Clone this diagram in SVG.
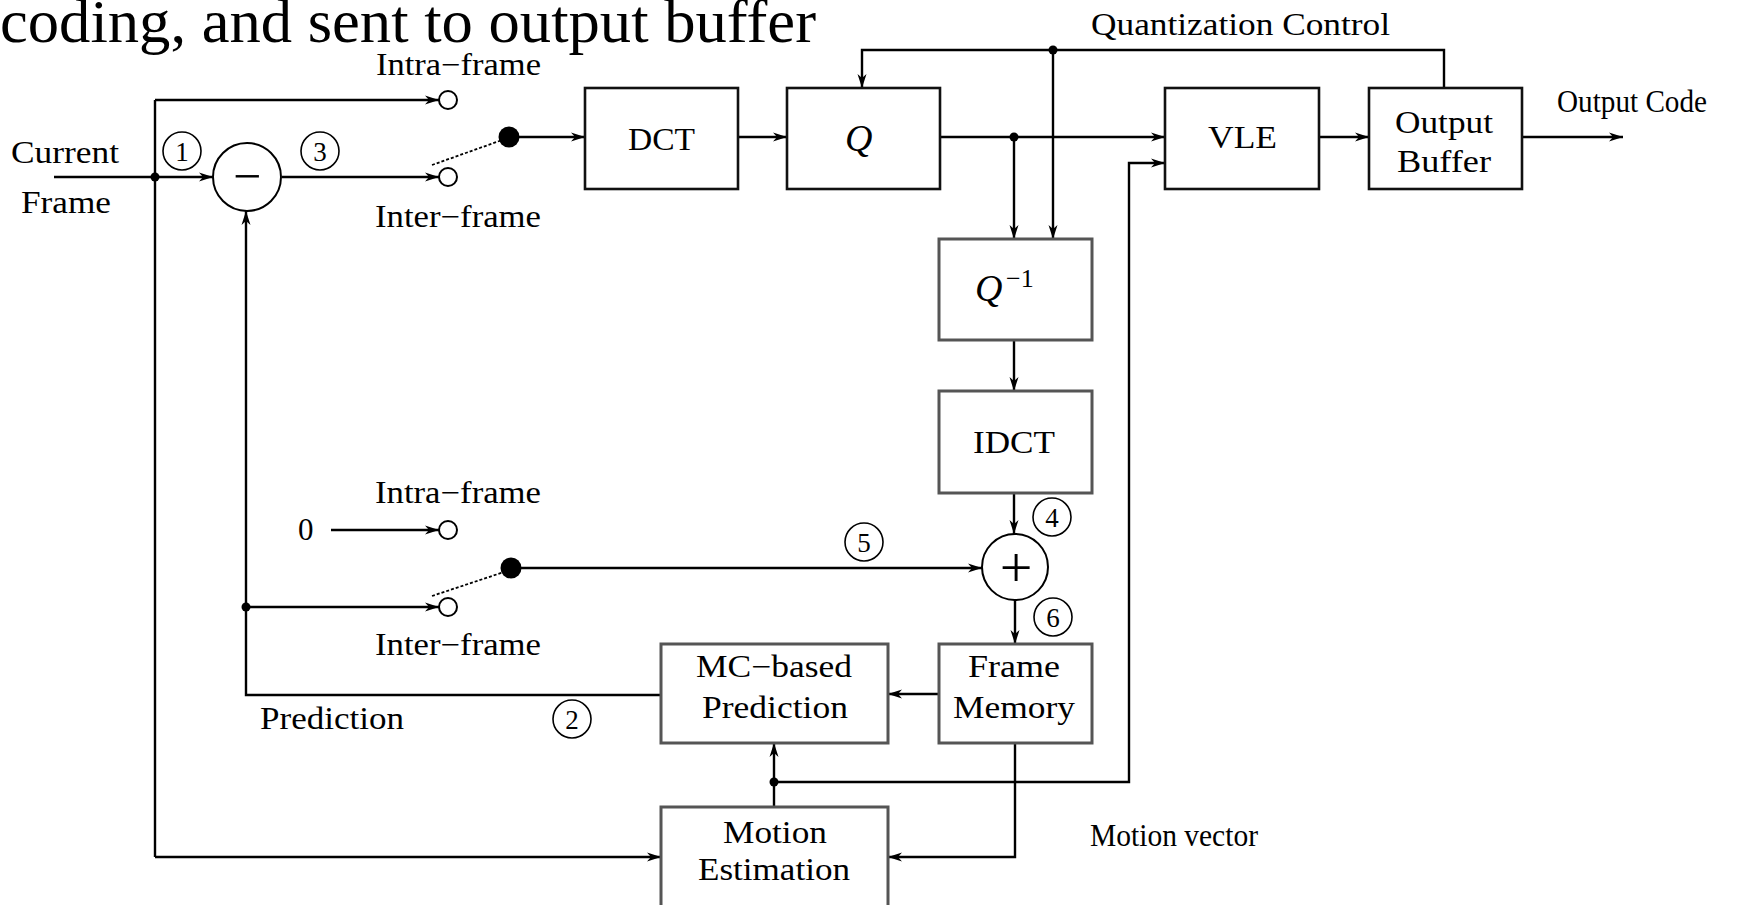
<svg xmlns="http://www.w3.org/2000/svg" width="1752" height="905" viewBox="0 0 1752 905">
<style>
  text { font-family: "Liberation Serif", "Times New Roman", serif; fill: #000; }
  .lbl { font-size: 31px; }
  .title { font-size: 61px; }
  .num { font-size: 27px; text-anchor: middle; }
  .box { fill: #fff; stroke: #111; stroke-width: 2.6; }
  .gbox { fill: #fff; stroke: #555; stroke-width: 3; }
  .ln { fill: none; stroke: #000; stroke-width: 2.4; }
  .arr { marker-end: url(#ah); }
  .sw { fill: #fff; stroke: #000; stroke-width: 2; }
  .cn { fill: #fff; stroke: #000; stroke-width: 1.6; }
  .dot { fill: #000; }
  .dash { fill: none; stroke: #000; stroke-width: 1.8; stroke-dasharray: 3 2; }
</style>
<defs>
  <marker id="ah" markerUnits="userSpaceOnUse" markerWidth="16" markerHeight="12" refX="14" refY="6" orient="auto">
    <path d="M0,1.5 L14,6 L0,10.5 L4,6 Z" fill="#000"/>
  </marker>
</defs>
<rect width="1752" height="905" fill="#fff"/>

<text class="title" x="0" y="42" textLength="816" lengthAdjust="spacingAndGlyphs">coding, and sent to output buffer</text>

<g id="connectors">
  <line class="ln arr" x1="54" y1="177" x2="213" y2="177"/>
  <line class="ln" x1="155" y1="100" x2="155" y2="857"/>
  <line class="ln arr" x1="155" y1="100" x2="439" y2="100"/>
  <line class="ln arr" x1="282" y1="177" x2="439" y2="177"/>
  <line class="dash" x1="432" y1="165" x2="505" y2="139"/>
  <line class="ln arr" x1="509" y1="137" x2="585" y2="137"/>
  <line class="ln arr" x1="738" y1="137" x2="787" y2="137"/>
  <line class="ln arr" x1="940" y1="137" x2="1165" y2="137"/>
  <line class="ln arr" x1="1014" y1="137" x2="1014" y2="239"/>
  <polyline class="ln arr" points="1444,88 1444,50 862,50 862,88"/>
  <line class="ln arr" x1="1053" y1="50" x2="1053" y2="239"/>
  <line class="ln arr" x1="1319" y1="137" x2="1369" y2="137"/>
  <line class="ln arr" x1="1522" y1="137" x2="1623" y2="137"/>
  <line class="ln arr" x1="1014" y1="340" x2="1014" y2="391"/>
  <line class="ln arr" x1="1014" y1="493" x2="1014" y2="534"/>
  <line class="ln arr" x1="1015" y1="600" x2="1015" y2="644"/>
  <line class="ln arr" x1="331" y1="530" x2="439" y2="530"/>
  <line class="ln arr" x1="511" y1="568" x2="982" y2="568"/>
  <line class="dash" x1="432" y1="596" x2="507" y2="571"/>
  <line class="ln arr" x1="246" y1="607" x2="439" y2="607"/>
  <polyline class="ln arr" points="662,695 246,695 246,211"/>
  <line class="ln arr" x1="939" y1="694" x2="888" y2="694"/>
  <line class="ln arr" x1="774" y1="807" x2="774" y2="743"/>
  <polyline class="ln arr" points="774,782 1129,782 1129,163 1165,163"/>
  <polyline class="ln arr" points="1015,743 1015,857 888,857"/>
  <line class="ln arr" x1="155" y1="857" x2="661" y2="857"/>
  <circle class="dot" cx="155" cy="177" r="4.5"/>
  <circle class="dot" cx="1014" cy="137" r="4.5"/>
  <circle class="dot" cx="1053" cy="50" r="4.5"/>
  <circle class="dot" cx="246" cy="607" r="4.5"/>
  <circle class="dot" cx="774" cy="782" r="4.5"/>
</g>

<g id="switch1">
  <circle class="sw" cx="448" cy="100" r="9"/>
  <circle class="sw" cx="448" cy="177" r="9"/>
  <circle class="dot" cx="509" cy="137" r="10.5"/>
  <text class="lbl" x="376" y="75" textLength="165" lengthAdjust="spacingAndGlyphs">Intra−frame</text>
  <text class="lbl" x="375" y="227" textLength="166" lengthAdjust="spacingAndGlyphs">Inter−frame</text>
</g>

<g id="switch2">
  <circle class="sw" cx="448" cy="530" r="9"/>
  <circle class="sw" cx="448" cy="607" r="9"/>
  <circle class="dot" cx="511" cy="568" r="10.5"/>
  <text class="lbl" x="375" y="503" textLength="166" lengthAdjust="spacingAndGlyphs">Intra−frame</text>
  <text class="lbl" x="375" y="655" textLength="166" lengthAdjust="spacingAndGlyphs">Inter−frame</text>
  <text class="lbl" x="298" y="540">0</text>
</g>

<g id="input">
  <text class="lbl" x="11" y="163" textLength="108" lengthAdjust="spacingAndGlyphs">Current</text>
  <text class="lbl" x="21" y="213" textLength="90" lengthAdjust="spacingAndGlyphs">Frame</text>
</g>

<g id="subtract">
  <circle class="sw" cx="247" cy="177" r="34"/>
  <text x="247" y="193" font-size="50" text-anchor="middle">−</text>
</g>

<g id="adder">
  <circle class="sw" cx="1015" cy="567" r="33"/>
  <text x="1016" y="587" font-size="58" text-anchor="middle">+</text>
</g>

<g id="dct">
  <rect class="box" x="585" y="88" width="153" height="101"/>
  <text class="lbl" x="628" y="150" textLength="67" lengthAdjust="spacingAndGlyphs">DCT</text>
</g>

<g id="q">
  <rect class="box" x="787" y="88" width="153" height="101"/>
  <text x="845" y="151" font-style="italic" font-size="38">Q</text>
</g>

<g id="vle">
  <rect class="box" x="1165" y="88" width="154" height="101"/>
  <text class="lbl" x="1208" y="148" textLength="69" lengthAdjust="spacingAndGlyphs">VLE</text>
</g>

<g id="outbuf">
  <rect class="box" x="1369" y="88" width="153" height="101"/>
  <text class="lbl" x="1395" y="133" textLength="98" lengthAdjust="spacingAndGlyphs">Output</text>
  <text class="lbl" x="1397" y="172" textLength="94" lengthAdjust="spacingAndGlyphs">Buffer</text>
</g>

<g id="qinv">
  <rect class="gbox" x="939" y="239" width="153" height="101"/>
  <text x="975" y="301" font-size="38" font-style="italic">Q</text>
  <text x="1006" y="287" font-size="26">−1</text>
</g>

<g id="idct">
  <rect class="gbox" x="939" y="391" width="153" height="102"/>
  <text class="lbl" x="973" y="453" textLength="82" lengthAdjust="spacingAndGlyphs">IDCT</text>
</g>

<g id="mcpred">
  <rect class="gbox" x="661" y="644" width="227" height="99"/>
  <text class="lbl" x="696" y="677" textLength="156" lengthAdjust="spacingAndGlyphs">MC−based</text>
  <text class="lbl" x="702" y="718" textLength="146" lengthAdjust="spacingAndGlyphs">Prediction</text>
</g>

<g id="framemem">
  <rect class="gbox" x="939" y="644" width="153" height="99"/>
  <text class="lbl" x="968" y="677" textLength="92" lengthAdjust="spacingAndGlyphs">Frame</text>
  <text class="lbl" x="953" y="718" textLength="122" lengthAdjust="spacingAndGlyphs">Memory</text>
</g>

<g id="motionest">
  <rect class="gbox" x="661" y="807" width="227" height="130"/>
  <text class="lbl" x="723" y="843" textLength="104" lengthAdjust="spacingAndGlyphs">Motion</text>
  <text class="lbl" x="698" y="880" textLength="152" lengthAdjust="spacingAndGlyphs">Estimation</text>
</g>

<g id="labels">
  <text class="lbl" x="1091" y="35" textLength="299" lengthAdjust="spacingAndGlyphs">Quantization Control</text>
  <text class="lbl" x="1557" y="112" textLength="150" lengthAdjust="spacingAndGlyphs">Output Code</text>
  <text class="lbl" x="260" y="729" textLength="144" lengthAdjust="spacingAndGlyphs">Prediction</text>
  <text class="lbl" x="1090" y="846" textLength="168" lengthAdjust="spacingAndGlyphs">Motion vector</text>
</g>

<g id="markers">
  <circle class="cn" cx="182" cy="151" r="19"/><text class="num" x="182" y="161">1</text>
  <circle class="cn" cx="320" cy="151" r="19"/><text class="num" x="320" y="161">3</text>
  <circle class="cn" cx="1052" cy="517" r="19"/><text class="num" x="1052" y="527">4</text>
  <circle class="cn" cx="864" cy="542" r="19"/><text class="num" x="864" y="552">5</text>
  <circle class="cn" cx="1053" cy="617" r="19"/><text class="num" x="1053" y="627">6</text>
  <circle class="cn" cx="572" cy="719" r="19"/><text class="num" x="572" y="729">2</text>
</g>
</svg>
